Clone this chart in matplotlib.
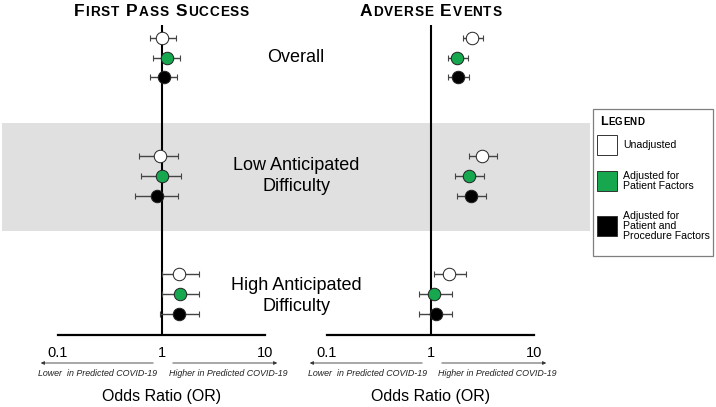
import numpy as np
import matplotlib
matplotlib.use('Agg')
import matplotlib.pyplot as plt
from matplotlib.patches import Rectangle, FancyArrowPatch
from matplotlib.offsetbox import TextArea, HPacker, DrawingArea, AnnotationBbox

plt.rcParams['font.family'] = ['Liberation Sans', 'DejaVu Sans']

# ---- data (rows = model, columns = Overall / Low / High difficulty) ----
groups = ['Overall', 'Low Anticipated\nDifficulty', 'High Anticipated\nDifficulty']
models = ['Unadjusted', 'Adjusted for\nPatient Factors',
          'Adjusted for\nPatient and\nProcedure Factors']
model_colors = ['white', '#17a84f', 'black']

fps_or = [[1.02, 0.96, 1.49], [1.12, 1.00, 1.52], [1.05, 0.90, 1.46]]
fps_lo = [[0.78, 0.61, 1.00], [0.82, 0.64, 1.00], [0.78, 0.56, 0.96]]
fps_hi = [[1.39, 1.43, 2.32], [1.52, 1.56, 2.32], [1.42, 1.43, 2.32]]

ae_or = [[2.53, 3.16, 1.52], [1.82, 2.37, 1.09], [1.86, 2.48, 1.12]]
ae_lo = [[2.08, 2.37, 1.07], [1.46, 1.74, 0.77], [1.49, 1.82, 0.78]]
ae_hi = [[3.23, 4.41, 2.22], [2.32, 3.31, 1.63], [2.37, 3.46, 1.63]]

panel_titles = ['First Pass Success', 'Adverse Events']
tick_vals = [0.1, 1, 10]
tick_labels = ['0.1', '1', '10']

W, H = 716, 407
fig = plt.figure(figsize=(W / 100, H / 100), dpi=100)


def fx(x):
    return x / W


def fy(y):
    return 1 - y / H


def small_caps(text, big, small, sep=0.6, gap=4):
    kids = []
    for i, word in enumerate(text.split()):
        if i:
            kids.append(DrawingArea(gap, 0))
        for j, ch in enumerate(word):
            kids.append(TextArea(ch.upper(), textprops=dict(
                size=big if j == 0 else small, weight='bold', color='black')))
    return HPacker(children=kids, align='baseline', pad=0, sep=sep)


# grey band behind "Low Anticipated Difficulty"
fig.add_artist(Rectangle((fx(2), fy(231)), fx(588), 108 / H,
                         transform=fig.transFigure, facecolor='#e0e0e0',
                         edgecolor='none', zorder=0))

# rows: each group has three models stacked 20 px apart
group_rows = np.array([2, 8, 14])
model_offsets = np.array([-1, 0, 1])

panels = [(fps_or, fps_lo, fps_hi, 58), (ae_or, ae_lo, ae_hi, 327)]
for (orv, lo, hi, left), title in zip(panels, panel_titles):
    ax = fig.add_axes([fx(left), fy(335), fx(207), 310 / H])
    ax.set_facecolor('none')
    ax.set_xscale('log')
    ax.set_xlim(0.1, 10)
    ax.set_ylim(16.08, 0.34)
    for s in ['top', 'right', 'left']:
        ax.spines[s].set_visible(False)
    ax.spines['bottom'].set_linewidth(1.6)
    ax.set_yticks([])
    ax.set_xticks(tick_vals)
    ax.set_xticklabels(tick_labels, fontsize=10.5)
    ax.tick_params(axis='x', length=0, pad=8)
    ax.minorticks_off()
    ax.axvline(1, color='black', lw=1.5, zorder=1)

    for m in range(3):
        rows = group_rows + model_offsets[m]
        est = np.array(orv[m])
        err = [est - np.array(lo[m]), np.array(hi[m]) - est]
        ax.errorbar(est, rows, xerr=err, fmt='none', ecolor='#444444',
                    elinewidth=1.0, capsize=2, capthick=0.8, zorder=2)
        ax.plot(est, rows, 'o', ms=9, mfc=model_colors[m], mec='#222222',
                mew=0.7, zorder=3)

    # panel title in small caps
    centre = left + 103.5
    fig.add_artist(AnnotationBbox(small_caps(title, 12.5, 9.8), (fx(centre), fy(11)),
                                  xycoords='figure fraction', frameon=False,
                                  box_alignment=(0.5, 0.5), pad=0))

    # direction arrows and captions
    fig.add_artist(FancyArrowPatch((fx(left + 98), fy(363)), (fx(left - 20), fy(363)),
                                   transform=fig.transFigure, arrowstyle='-|>',
                                   mutation_scale=5, lw=0.6, color='#333333'))
    fig.add_artist(FancyArrowPatch((fx(left + 112), fy(363)), (fx(left + 222), fy(363)),
                                   transform=fig.transFigure, arrowstyle='-|>',
                                   mutation_scale=5, lw=0.6, color='#333333'))
    fig.text(fx(left + 40), fy(374), 'Lower  in Predicted COVID-19', ha='center',
             va='center', fontsize=6.4, style='italic', color='#222222')
    fig.text(fx(left + 170), fy(374), 'Higher in Predicted COVID-19', ha='center',
             va='center', fontsize=6.4, style='italic', color='#222222')
    fig.text(fx(left + 104), fy(397), 'Odds Ratio (OR)', ha='center',
             va='center', fontsize=11.5)

# group labels between the panels
for g, y in zip(groups, [58, 176, 296]):
    fig.text(fx(296), fy(y), g, ha='center', va='center', fontsize=13,
             multialignment='center', linespacing=1.25)

# legend box
fig.add_artist(Rectangle((fx(593), fy(256)), fx(120), 147 / H,
                         transform=fig.transFigure, facecolor='white',
                         edgecolor='#7f7f7f', lw=0.9, zorder=2))
fig.add_artist(AnnotationBbox(small_caps('Legend', 9, 7, sep=0.3), (fx(600), fy(122)),
                              xycoords='figure fraction', frameon=False,
                              box_alignment=(0, 0.5), pad=0))
for m, yc in enumerate([145, 181, 226]):
    fig.add_artist(Rectangle((fx(597), fy(yc + 10)), fx(20), 20 / H,
                             transform=fig.transFigure,
                             facecolor=model_colors[m], edgecolor='#333333',
                             lw=0.7, zorder=3))
    fig.text(fx(623), fy(yc), models[m], ha='left', va='center', fontsize=7.6,
             linespacing=1.05, zorder=3)

fig.savefig('out.png', dpi=100)
